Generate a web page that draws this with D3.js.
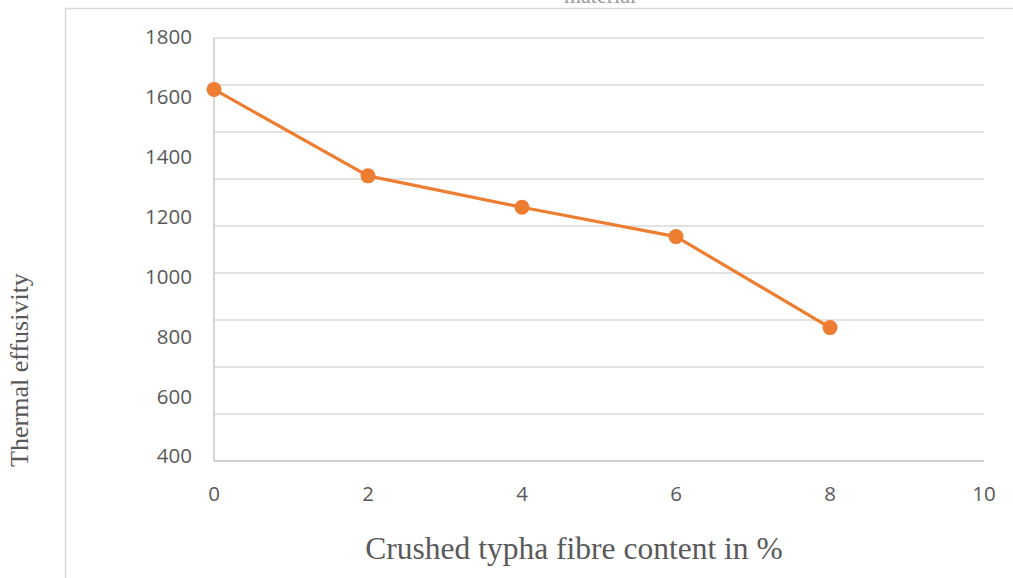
<!DOCTYPE html>
<html><head><meta charset="utf-8">
<script src="https://cdn.jsdelivr.net/npm/d3@7"></script>
<style>body{margin:0;background:#fff}svg{display:block}</style>
</head><body>
<svg id="c" width="1013" height="578"></svg>
<script>
const fibreContent = [0, 2, 4, 6, 8];
const effusivity = [1625, 1336, 1231, 1133, 829];
const xTicks = [0, 2, 4, 6, 8, 10];
const yTickLabels = [400, 600, 800, 1000, 1200, 1400, 1600, 1800];
const gridValues = [0, 200, 400, 600, 800, 1000, 1200, 1400, 1600, 1800];

const svg = d3.select("#c");
const x = d3.scaleLinear().domain([0, 10]).range([214, 984]);
const y = d3.scaleLinear().domain([400, 1800]).range([456, 37]);
const yGrid = d3.scaleLinear().domain([0, 1800]).range([461, 38]);

// outer frame
svg.append("path").attr("d", "M65.5,578 V8.5 H1013").attr("fill", "none")
  .attr("stroke", "#d9d9d9").attr("stroke-width", 1.5);
// clipped title (cut off at the top edge, as in the reference)
svg.append("text").attr("x", 600).attr("y", 3).attr("text-anchor", "middle")
  .attr("font-family", "Liberation Serif").attr("font-size", 22).attr("fill", "#9a9a9a")
  .text("material");

// gridlines
svg.append("g").selectAll("line").data(gridValues).join("line")
  .attr("x1", x(0)).attr("x2", x(10))
  .attr("y1", d => yGrid(d)).attr("y2", d => yGrid(d))
  .attr("stroke", d => d === 0 ? "#bfbfbf" : "#d9d9d9").attr("stroke-width", 1.5);
// left axis line
svg.append("line").attr("x1", x(0)).attr("x2", x(0))
  .attr("y1", yGrid(1800)).attr("y2", yGrid(0))
  .attr("stroke", "#c8c8c8").attr("stroke-width", 1.5);

// y labels
svg.append("g").selectAll("text").data(yTickLabels).join("text")
  .attr("x", 192).attr("y", d => y(d)).attr("dy", "0.36em")
  .attr("text-anchor", "end").attr("font-family", "Open Sans").attr("font-size", 20.5)
  .attr("fill", "#595959").text(d => d);
// x labels
svg.append("g").selectAll("text").data(xTicks).join("text")
  .attr("x", d => x(d)).attr("y", 494).attr("dy", "0.36em")
  .attr("text-anchor", "middle").attr("font-family", "Open Sans").attr("font-size", 20.5)
  .attr("fill", "#595959").text(d => d);

// axis titles
svg.append("text").attr("x", 574).attr("y", 559).attr("text-anchor", "middle")
  .attr("font-family", "Liberation Serif").attr("font-size", 31.5).attr("fill", "#595959")
  .text("Crushed typha fibre content in %");
svg.append("text").attr("transform", "translate(28,370) rotate(-90)").attr("text-anchor", "middle")
  .attr("font-family", "Liberation Serif").attr("font-size", 26).attr("fill", "#595959")
  .text("Thermal effusivity");

// series
const pts = fibreContent.map((f, i) => [f, effusivity[i]]);
svg.append("path").datum(pts)
  .attr("d", d3.line().x(d => x(d[0])).y(d => y(d[1])))
  .attr("fill", "none").attr("stroke", "#ED7D31").attr("stroke-width", 3.2)
  .attr("stroke-linejoin", "round");
svg.append("g").selectAll("circle").data(pts).join("circle")
  .attr("cx", d => x(d[0])).attr("cy", d => y(d[1])).attr("r", 7.5)
  .attr("fill", "#ED7D31");
</script>
</body></html>
